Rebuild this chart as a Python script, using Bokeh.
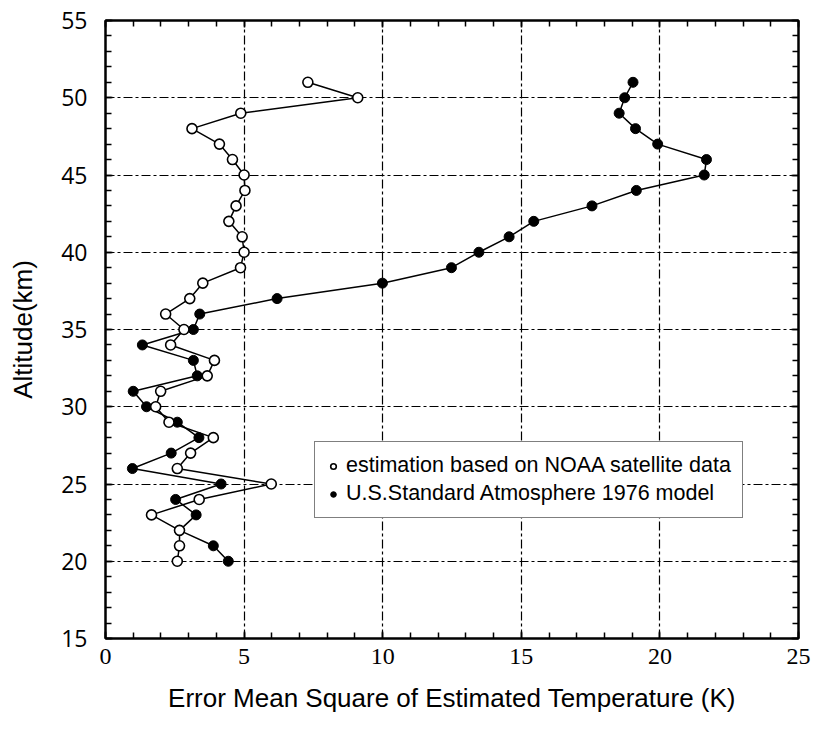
from bokeh.plotting import figure
from bokeh.models import (LinearAxis, SingleIntervalTicker, Range1d, Legend, LegendItem,
                          CustomJSTickFormatter)
from bokeh.embed import file_html
from bokeh.resources import INLINE

# ---- data ----
altitude = [51, 50, 49, 48, 47, 46, 45, 44, 43, 42, 41, 40, 39, 38, 37, 36,
            35, 34, 33, 32, 31, 30, 29, 28, 27, 26, 25, 24, 23, 22, 21, 20]
noaa_err = [7.30, 9.10, 4.88, 3.12, 4.11, 4.58, 5.00, 5.03, 4.71, 4.45, 4.93, 5.00,
            4.87, 3.51, 3.04, 2.17, 2.83, 2.35, 3.93, 3.67, 1.99, 1.81, 2.29, 3.89,
            3.07, 2.59, 5.98, 3.38, 1.66, 2.67, 2.67, 2.59]
us76_err = [19.03, 18.73, 18.53, 19.12, 19.92, 21.68, 21.60, 19.15, 17.55, 15.45,
            14.56, 13.47, 12.48, 9.99, 6.19, 3.40, 3.17, 1.33, 3.17, 3.31, 1.00,
            1.48, 2.59, 3.37, 2.37, 0.97, 4.17, 2.53, 3.27, 2.67, 3.89, 4.43]
series_labels = ["estimation based on NOAA satellite data",
                 "U.S.Standard Atmosphere 1976 model"]
x_title = "Error Mean Square of Estimated Temperature (K)"
y_title = "Altitude(km)"

p = figure(width=817, height=729, frame_width=693, frame_height=618,
           output_backend="svg", toolbar_location=None,
           x_range=Range1d(0, 25), y_range=Range1d(15, 55),
           x_axis_label=x_title, y_axis_label=y_title,
           min_border_left=105, min_border_right=19,
           min_border_top=20, min_border_bottom=91)
p.background_fill_color = "white"
p.border_fill_color = "white"
p.outline_line_color = "black"
p.outline_line_width = 2

# grids
for g in (p.xgrid, p.ygrid):
    g.grid_line_color = "black"
    g.grid_line_width = 1.2
    g.grid_line_dash = "9 3 3 3"
p.xgrid.ticker = SingleIntervalTicker(interval=5, num_minor_ticks=5)
p.ygrid.ticker = SingleIntervalTicker(interval=5, num_minor_ticks=5)

def style_axis(ax, interval):
    ax.ticker = SingleIntervalTicker(interval=interval, num_minor_ticks=5)
    ax.axis_line_color = "black"
    ax.axis_line_width = 2
    ax.major_tick_in = 7
    ax.major_tick_out = 0
    ax.minor_tick_in = 6
    ax.minor_tick_out = 0
    ax.major_tick_line_width = 1.5
    ax.minor_tick_line_width = 1.5
    ax.major_tick_line_color = "black"
    ax.minor_tick_line_color = "black"

xa = p.xaxis[0]
style_axis(xa, 5)
xa.major_label_text_font = "Liberation Sans Narrow"
xa.major_label_text_font_size = "24px"
xa.major_label_text_color = "black"
xa.major_label_standoff = 10
xa.axis_label_text_font = "Liberation Sans"
xa.axis_label_text_font_size = "26px"
xa.axis_label_text_font_style = "normal"
xa.axis_label_text_color = "black"
xa.axis_label_standoff = 16

ya = p.yaxis[0]
style_axis(ya, 5)
ya.major_label_text_font = "Open Sans"
ya.major_label_text_font_size = "23px"
ya.major_label_text_color = "black"
ya.major_label_standoff = 18
ya.axis_label_text_font = "Liberation Sans"
ya.axis_label_text_font_size = "26px"
ya.axis_label_text_font_style = "normal"
ya.axis_label_text_color = "black"
ya.axis_label_standoff = 20

top = LinearAxis(formatter=CustomJSTickFormatter(code="return ''"), major_label_standoff=0)
style_axis(top, 5)
p.add_layout(top, "above")
right = LinearAxis(formatter=CustomJSTickFormatter(code="return ''"), major_label_standoff=0)
style_axis(right, 5)
p.add_layout(right, "right")

# lines + markers
p.line(noaa_err, altitude, line_color="black", line_width=1.5)
p.line(us76_err, altitude, line_color="black", line_width=1.5)
r_us = p.scatter(us76_err, altitude, marker="circle", size=10,
                 fill_color="black", line_color="black", line_width=1)
r_noaa = p.scatter(noaa_err, altitude, marker="circle", size=10,
                   fill_color="white", line_color="black", line_width=1.6)

legend = Legend(items=[LegendItem(label=series_labels[0], renderers=[r_noaa]),
                       LegendItem(label=series_labels[1], renderers=[r_us])],
                location=(209, 120), orientation="vertical")
legend.margin = 0
legend.padding = 11
legend.spacing = 3
legend.glyph_width = 14
legend.glyph_height = 14
legend.label_standoff = 6
legend.label_text_font = "Liberation Sans"
legend.label_text_font_size = "21.5px"
legend.label_text_color = "black"
legend.border_line_color = "black"
legend.border_line_width = 1.5
legend.background_fill_color = "white"
legend.background_fill_alpha = 1
p.add_layout(legend, "center")

open("out.html", "w").write(file_html(p, INLINE))
